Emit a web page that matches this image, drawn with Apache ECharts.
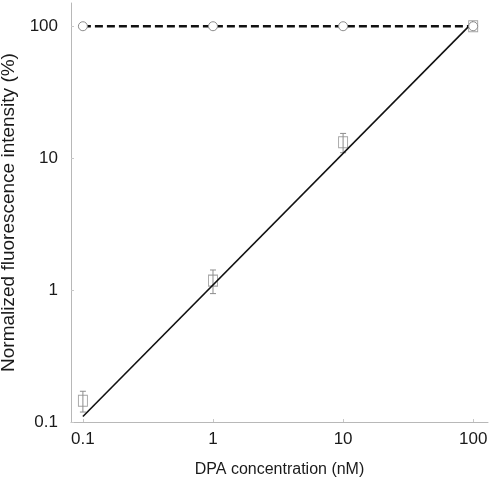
<!DOCTYPE html>
<html>
<head>
<meta charset="utf-8">
<script src="https://cdn.jsdelivr.net/npm/echarts@6/dist/echarts.min.js"></script>
<style>
  html, body { margin: 0; padding: 0; background: #fff; }
  #chart { width: 498px; height: 500px; }
</style>
</head>
<body>
<div id="chart"></div>
<script>
// DPA concentration (nM)
var concentrations = [0.1, 1, 10, 100];
// reference (dashed, circles) - normalized intensity (%)
var refValues = [100, 100, 100, 100];
var refErrors = [1.5, 1.5, 1.5, 2];
// sample (squares) - normalized intensity (%)
var sampleValues = [0.145, 1.18, 13.2, 100];
var sampleErrors = [0.026, 0.24, 2.2, 3];
// linear fit end points
var fitX = [0.1, 100];
var fitY = [0.11, 108];

var chart = echarts.init(document.getElementById('chart'), null, { renderer: 'canvas' });

function pairs(xs, ys) {
    return xs.map(function(x, i) { return [x, ys[i]]; });
}

function errorData(xs, ys, es) {
    return xs.map(function(x, i) { return [x, ys[i] - es[i], ys[i] + es[i]]; });
}

function renderErrorBar(params, api) {
    var x = api.value(0);
    var lo = api.coord([x, api.value(1)]);
    var hi = api.coord([x, api.value(2)]);
    var hw = 3;
    var style = { stroke: '#8c8c8c', lineWidth: 1 };
    return {
        type: 'group',
        children: [
            { type: 'line', shape: { x1: lo[0], y1: lo[1], x2: hi[0], y2: hi[1] }, style: style },
            { type: 'line', shape: { x1: lo[0] - hw, y1: lo[1], x2: lo[0] + hw, y2: lo[1] }, style: style },
            { type: 'line', shape: { x1: hi[0] - hw, y1: hi[1], x2: hi[0] + hw, y2: hi[1] }, style: style }
        ]
    };
}

var xNameFont = { fontFamily: 'Liberation Sans', fontSize: 16, color: '#1a1a1a' };
var yNameFont = { fontFamily: 'Liberation Sans', fontSize: 19, color: '#1a1a1a' };
var tickFont = { fontFamily: 'Liberation Sans', fontSize: 17, color: '#1a1a1a' };

function fmt(v) { return String(+v.toPrecision(3)); }

chart.setOption({
    animation: false,
    backgroundColor: '#fff',
    grid: { left: 71, right: 10, top: 3, bottom: 78, containLabel: false, outerBoundsMode: 'none' },
    xAxis: {
        type: 'log',
        logBase: 10,
        min: 0.081,
        max: 130,
        name: 'DPA concentration (nM)',
        nameLocation: 'middle',
        nameGap: 40,
        nameTextStyle: xNameFont,
        axisLine: { onZero: false, lineStyle: { color: '#b8b8b8', width: 1 } },
        axisTick: { show: true, inside: true, length: 3, lineStyle: { color: '#c8c8c8' } },
        axisLabel: Object.assign({ margin: 9, showMinLabel: false, showMaxLabel: false, formatter: fmt }, tickFont),
        splitLine: { show: false }
    },
    yAxis: {
        type: 'log',
        logBase: 10,
        min: 0.1,
        max: 150,
        name: 'Normalized fluorescence intensity (%)',
        nameLocation: 'middle',
        nameGap: 47,
        nameTextStyle: yNameFont,
        axisLine: { onZero: false, lineStyle: { color: '#b8b8b8', width: 1 } },
        axisTick: { show: true, inside: true, length: 3, lineStyle: { color: '#c8c8c8' } },
        axisLabel: Object.assign({ margin: 13, showMaxLabel: false, formatter: fmt }, tickFont),
        splitLine: { show: false }
    },
    series: [
        {
            type: 'line',
            data: pairs(fitX, fitY),
            symbol: 'none',
            lineStyle: { color: '#111', width: 1.6 },
            z: 3
        },
        {
            type: 'custom',
            renderItem: renderErrorBar,
            data: errorData(concentrations, sampleValues, sampleErrors),
            z: 2
        },
        {
            type: 'custom',
            renderItem: renderErrorBar,
            data: errorData(concentrations, refValues, refErrors),
            z: 2
        },
        {
            type: 'scatter',
            data: pairs(concentrations, sampleValues),
            symbol: 'rect',
            symbolSize: [9, 11],
            itemStyle: { color: 'rgba(255,255,255,0)', borderColor: '#8c8c8c', borderWidth: 1 },
            z: 2
        },
        {
            type: 'line',
            data: pairs(concentrations, refValues),
            symbol: 'circle',
            symbolSize: 9,
            showAllSymbol: true,
            itemStyle: { color: '#fff', borderColor: '#8c8c8c', borderWidth: 1 },
            lineStyle: { color: '#111', width: 2.6, type: [8, 4] },
            z: 4
        }
    ]
});
</script>
</body>
</html>
